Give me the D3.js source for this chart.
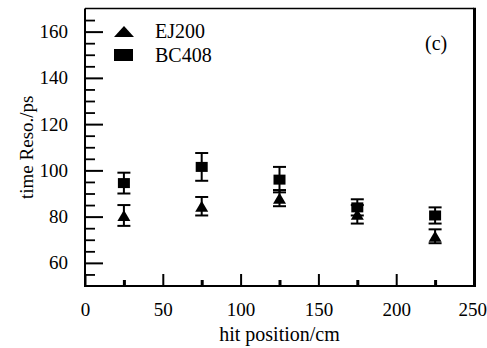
<!DOCTYPE html>
<html>
<head>
<meta charset="utf-8">
<script src="https://cdn.jsdelivr.net/npm/d3@7"></script>
<style>
  html, body { margin: 0; padding: 0; background: #fff; }
  svg { display: block; }
  text { font-family: "Liberation Serif", "Times New Roman", serif; fill: #000; }
</style>
</head>
<body>
<svg id="chart" width="487" height="348"></svg>
<script>
// ---- data ----
const positions = [25, 75, 125, 175, 225];
const ej200 = [80.5, 84.5, 88, 81, 71.5];
const ej200Err = [4.5, 4, 3.5, 4, 3];
const bc408 = [94.5, 101.5, 96, 84, 80.5];
const bc408Err = [4.5, 6, 5.5, 3.5, 3.5];
const seriesNames = ["EJ200", "BC408"];
const xTicksMajor = [0, 50, 100, 150, 200, 250];
const xTicksMinor = [25, 75, 125, 175, 225];
const yTicksMajor = [60, 80, 100, 120, 140, 160];
const yTicksMinor = [55, 65, 70, 75, 85, 90, 95, 105, 110, 115, 125, 130, 135, 145, 150, 155, 165];
const xTitle = "hit position/cm";
const yTitle = "time Reso./ps";
const panelLabel = "(c)";

// ---- layout ----
const FONT = '"Liberation Serif", "Times New Roman", serif';
const L = 85, R = 474, T = 8.5, B = 286;
const svg = d3.select("#chart").attr("font-family", FONT);
const x = d3.scaleLinear().domain([0, 250]).range([L, R]);
const y = d3.scaleLinear().domain([50, 170]).range([B, T]);

// y axis major
const gy = svg.append("g").attr("transform", `translate(${L},0)`)
  .call(d3.axisLeft(y).tickValues(yTicksMajor).tickSize(-18).tickPadding(17).tickFormat(d3.format("d")))
  .attr("font-family", FONT);
gy.select(".domain").remove();
gy.selectAll("line").attr("stroke", "#000").attr("stroke-width", 2);
gy.selectAll("text").style("font-size", "19px").style("font-family", FONT).attr("fill", "#000");
// y axis minor
const gym = svg.append("g").attr("transform", `translate(${L},0)`)
  .call(d3.axisLeft(y).tickValues(yTicksMinor).tickSize(-10).tickFormat(""));
gym.select(".domain").remove();
gym.selectAll("line").attr("stroke", "#000").attr("stroke-width", 1.8);

// x axis major
const gx = svg.append("g").attr("transform", `translate(0,${B})`)
  .call(d3.axisBottom(x).tickValues(xTicksMajor).tickSize(-12).tickPadding(17).tickFormat(d3.format("d")))
  .attr("font-family", FONT);
gx.select(".domain").remove();
gx.selectAll("line").attr("stroke", "#000").attr("stroke-width", 2);
gx.selectAll("text").style("font-size", "19px").style("font-family", FONT).attr("fill", "#000");
// keep the last label inside the picture
gx.selectAll(".tick").filter(d => d === 250).select("text").attr("text-anchor", "end").attr("x", 12.5);
// x axis minor
const gxm = svg.append("g").attr("transform", `translate(0,${B})`)
  .call(d3.axisBottom(x).tickValues(xTicksMinor).tickSize(-6).tickFormat(""));
gxm.select(".domain").remove();
gxm.selectAll("line").attr("stroke", "#000").attr("stroke-width", 3);

// frame
svg.append("line").attr("x1", L).attr("x2", L).attr("y1", T).attr("y2", B + 1).attr("stroke", "#000").attr("stroke-width", 2);
svg.append("line").attr("x1", L - 1).attr("x2", R + 1).attr("y1", B).attr("y2", B).attr("stroke", "#000").attr("stroke-width", 2);
svg.append("line").attr("x1", L).attr("x2", R).attr("y1", T).attr("y2", T).attr("stroke", "#000").attr("stroke-width", 1.5);
svg.append("line").attr("x1", R + 0.5).attr("x2", R + 0.5).attr("y1", T - 0.75).attr("y2", B + 1).attr("stroke", "#000").attr("stroke-width", 3);

// titles
svg.append("text").attr("x", (L + R) / 2).attr("y", 341).attr("text-anchor", "middle")
  .style("font-size", "20px").text(xTitle);
svg.append("text").attr("transform", `translate(33,${(T + B) / 2}) rotate(-90)`).attr("text-anchor", "middle")
  .style("font-size", "19px").text(yTitle);
svg.append("text").attr("x", 425).attr("y", 50).style("font-size", "20px").text(panelLabel);

// shapes
function triPath(w, h) { return `M0,${-h/2}L${w/2},${h/2}L${-w/2},${h/2}Z`; }

function drawSeries(vals, errs, kind) {
  const g = svg.append("g");
  positions.forEach((p, i) => {
    const cx = x(p), cy = y(vals[i]);
    const y1 = y(vals[i] + errs[i]), y2 = y(vals[i] - errs[i]);
    g.append("line").attr("x1", cx).attr("x2", cx).attr("y1", y1).attr("y2", y2).attr("stroke", "#000").attr("stroke-width", 2);
    [y1, y2].forEach(yy => g.append("line").attr("x1", cx - 6.5).attr("x2", cx + 6.5).attr("y1", yy).attr("y2", yy).attr("stroke", "#000").attr("stroke-width", 2));
    if (kind === "tri") {
      g.append("path").attr("d", triPath(13, 11)).attr("transform", `translate(${cx},${cy})`).attr("fill", "#000");
    } else {
      g.append("rect").attr("x", cx - 6).attr("y", cy - 5).attr("width", 12).attr("height", 10).attr("fill", "#000");
    }
  });
}
drawSeries(ej200, ej200Err, "tri");
drawSeries(bc408, bc408Err, "sq");

// legend
svg.append("path").attr("d", triPath(20, 11)).attr("transform", "translate(124,31.5)").attr("fill", "#000");
svg.append("rect").attr("x", 114).attr("y", 49).attr("width", 19).attr("height", 12).attr("fill", "#000");
svg.append("text").attr("x", 155).attr("y", 37.5).style("font-size", "20px").text(seriesNames[0]);
svg.append("text").attr("x", 155).attr("y", 62).style("font-size", "20px").text(seriesNames[1]);
</script>
</body>
</html>
